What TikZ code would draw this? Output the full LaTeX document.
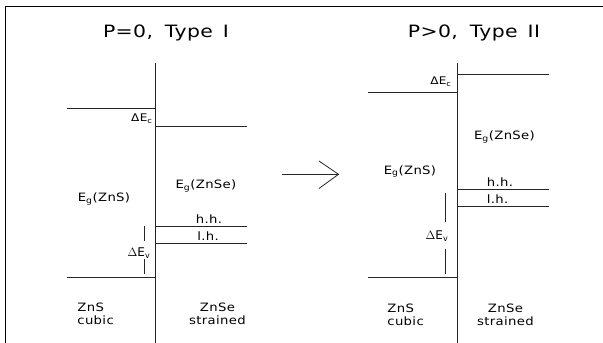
\documentclass[tikz,border=0pt]{standalone}
\usepackage{fontspec}
\setmainfont{DejaVu Sans}
\newfontfamily\plotfont[FakeStretch=1.15,LetterSpace=3]{DejaVu Sans}
\newfontfamily\titlefont[FakeStretch=1.2,LetterSpace=2]{DejaVu Sans}
\begin{document}
\begin{tikzpicture}[x=1pt,y=-1pt,line width=0.8pt,
  lvl/.style={draw=black!85},
  lab/.style={font=\plotfont\fontsize{11.5}{12.5}\selectfont,inner sep=0pt},
  ttl/.style={font=\titlefont\fontsize{17}{20}\selectfont,inner sep=0pt},
  dEc/.style={font=\plotfont\fontsize{10.5}{12}\selectfont,inner sep=0pt},
  dEv/.style={font=\fontsize{12}{14}\selectfont,inner sep=0pt}]
\useasboundingbox (0,0) rectangle (603,343);
% frame
\coordinate (fbl) at (5,343);
\coordinate (ftl) at (5,6);
\coordinate (ftr) at (603,6);
\draw[line width=1pt] (fbl) -- (ftl) -- (ftr);

% ---------------- left diagram ----------------
\node[ttl] (t1) at (166,33) {P=0,\hspace{12pt}Type\hspace{10pt}I};
\coordinate (Lt) at (155.5,63);
\coordinate (Lb) at (155.5,343);
\draw[lvl] (Lt) -- (Lb);
\coordinate (Lcb1) at (66.5,108.5);  \coordinate (Lcb1e) at (155.5,108.5);
\coordinate (Lcb2) at (155.5,126);   \coordinate (Lcb2e) at (246.5,126);
\coordinate (Lhh) at (155.5,226);    \coordinate (Lhhe) at (246.5,226);
\coordinate (Llh) at (155.5,243);    \coordinate (Llhe) at (246.5,243);
\coordinate (Lvb) at (66.5,277);     \coordinate (Lvbe) at (155.5,277);
\draw[lvl] (Lcb1) -- (Lcb1e);
\draw[lvl] (Lcb2) -- (Lcb2e);
\draw[lvl] (Lhh) -- (Lhhe);
\draw[lvl] (Llh) -- (Llhe);
\draw[lvl] (Lvb) -- (Lvbe);
\node[dEc,anchor=east] (LdEc) at (153,119) {ΔE\textsubscript{c}};
\node[lab] (LEgS) at (104,199) {E\textsubscript{g}(ZnS)};
\node[lab] (LEgSe) at (206,186) {E\textsubscript{g}(ZnSe)};
\node[lab] (Lhhl) at (209,219.5) {h.h.};
\node[lab] (Llhl) at (208,236) {l.h.};
\node[dEv] (LdEv) at (139,253) {$\Delta\mathrm{E}_{\mathrm{v}}$};
\coordinate (Lv1) at (144,226); \coordinate (Lv2) at (144,241);
\coordinate (Lv3) at (144,259); \coordinate (Lv4) at (144,274);
\draw[lvl] (Lv1) -- (Lv2);
\draw[lvl] (Lv3) -- (Lv4);
\node[lab,anchor=west,align=left] (LZnS) at (77,314) {ZnS\\cubic};
\node[lab,align=center] (LZnSe) at (217.5,314) {ZnSe\\strained};

% ---------------- arrow ----------------
\coordinate (as) at (281.5,174.3);
\coordinate (at) at (338.5,174.3);
\coordinate (a1) at (319,161);
\coordinate (a2) at (319,188.5);
\draw[lvl] (as) -- (at);
\draw[lvl] (a1) -- (at) -- (a2);

% ---------------- right diagram ----------------
\node[ttl] (t2) at (474,33) {P>0,\hspace{12pt}Type\hspace{10pt}II};
\coordinate (Rt) at (457,63);
\coordinate (Rb) at (457,343);
\draw[lvl] (Rt) -- (Rb);
\coordinate (Rcb2) at (457,74);      \coordinate (Rcb2e) at (548.5,74);
\coordinate (Rcb1) at (367.5,92);    \coordinate (Rcb1e) at (457,92);
\coordinate (Rhh) at (457,189.5);    \coordinate (Rhhe) at (548.5,189.5);
\coordinate (Rlh) at (457,206);      \coordinate (Rlhe) at (548.5,206);
\coordinate (Rvb) at (367.5,277);    \coordinate (Rvbe) at (457,277);
\draw[lvl] (Rcb2) -- (Rcb2e);
\draw[lvl] (Rcb1) -- (Rcb1e);
\draw[lvl] (Rhh) -- (Rhhe);
\draw[lvl] (Rlh) -- (Rlhe);
\draw[lvl] (Rvb) -- (Rvbe);
\node[dEc,anchor=east] (RdEc) at (452,82) {ΔE\textsubscript{c}};
\node[lab] (REgSe) at (504.5,137) {E\textsubscript{g}(ZnSe)};
\node[lab] (REgS) at (410,171.5) {E\textsubscript{g}(ZnS)};
\node[lab] (Rhhl) at (500,182) {h.h.};
\node[lab] (Rlhl) at (497.5,199.5) {l.h.};
\node[dEv] (RdEv) at (437,236) {$\Delta\mathrm{E}_{\mathrm{v}}$};
\coordinate (Rv1) at (445.5,193); \coordinate (Rv2) at (445.5,222);
\coordinate (Rv3) at (445.5,249); \coordinate (Rv4) at (445.5,274);
\draw[lvl] (Rv1) -- (Rv2);
\draw[lvl] (Rv3) -- (Rv4);
\node[lab,anchor=west,align=left] (RZnS) at (387,315) {ZnS\\cubic};
\node[lab,align=center] (RZnSe) at (505.5,315) {ZnSe\\strained};
\end{tikzpicture}
\end{document}
